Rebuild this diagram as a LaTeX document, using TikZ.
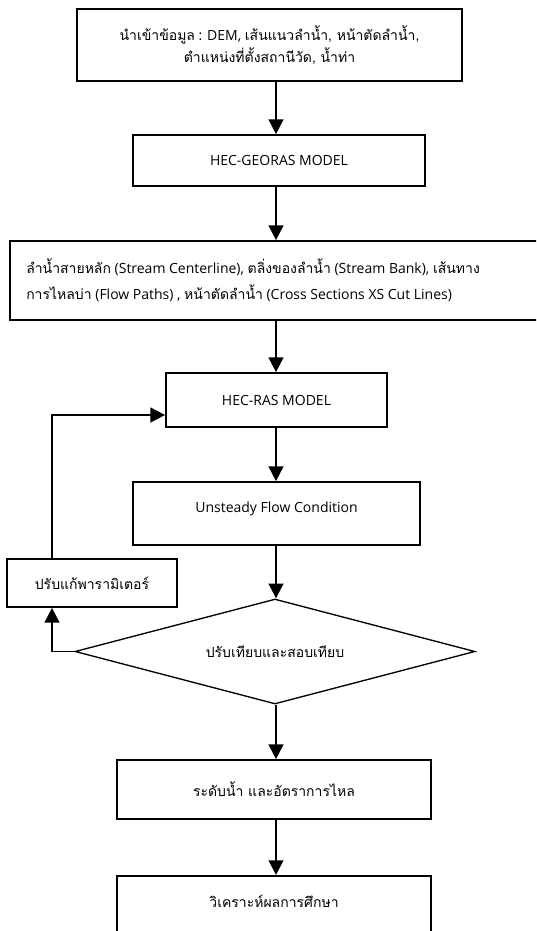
\documentclass[tikz,border=0pt]{standalone}
\usepackage{fontspec}
\setmainfont{Open Sans}
\newfontfamily\thai[Script=Thai]{Loma}
\usetikzlibrary{arrows.meta,shapes.geometric}
\begin{document}
\begin{tikzpicture}[x=0.75pt,y=-0.75pt,
  box/.style={draw, line width=1.3pt, rectangle, inner sep=0pt, align=center,
    font=\fontsize{10.5}{16}\selectfont},
  txt/.style={inner sep=0pt, font=\fontsize{10.5}{16}\selectfont},
  arr/.style={line width=1.4pt, -{Triangle[width=11pt,length=11pt]}}]
\clip (0,0) rectangle (536,931);
\fill[white] (0,0) rectangle (536,931);
\coordinate (ax) at (276,0);
% boxes
\node[box, minimum width=385*0.75pt, minimum height=72*0.75pt] (b1) at (269.5,45)
  {{\thai นำเข้าข้อมูล} : DEM, {\thai เส้นแนวลำน้ำ, หน้าตัดลำน้ำ,}\\{\thai ตำแหน่งที่ตั้งสถานีวัด, น้ำท่า}};
\node[box, minimum width=292*0.75pt, minimum height=51*0.75pt] (b2) at (279,160.5) {HEC-GEORAS MODEL};
\node[box, minimum width=560*0.75pt, minimum height=79*0.75pt, anchor=west] (b3) at (9,280.5) {};
\node[txt, anchor=west, align=left, font=\fontsize{10.5}{19.5}\selectfont] (b3t) at (26,280)
  {{\thai ลำน้ำสายหลัก} (Stream Centerline), {\thai ตลิ่งของลำน้ำ} (Stream Bank), {\thai เส้นทาง}\\
   {\thai การไหลบ่า} (Flow Paths) , {\thai หน้าตัดลำน้ำ} (Cross Sections XS Cut Lines)};
\node[box, minimum width=221*0.75pt, minimum height=54*0.75pt] (b4) at (276.5,400) {HEC-RAS MODEL};
\node[box, minimum width=287*0.75pt, minimum height=63*0.75pt] (b5) at (276.5,513.5) {};
\node[txt] (b5t) at (276.5,509) {Unsteady Flow Condition};
\node[box, minimum width=170*0.75pt, minimum height=48*0.75pt] (b6) at (92,583) {\thai ปรับแก้พารามิเตอร์};
\node[draw, diamond, aspect=3.8, line width=1pt, inner sep=0pt, minimum width=400*0.75pt,
  minimum height=105*0.75pt, font=\fontsize{10.5}{16}\selectfont] (d) at (275,651.5) {\thai ปรับเทียบและสอบเทียบ};
\node[box, minimum width=314*0.75pt, minimum height=59*0.75pt] (b7) at (274,789.5) {\thai ระดับน้ำ และอัตราการไหล};
\node[box, minimum width=314*0.75pt, minimum height=90*0.75pt, anchor=north] (b8) at (274,875) {};
\node[txt] (b8t) at (274,901) {\thai วิเคราะห์ผลการศึกษา};
% connectors
\draw[arr] (b1.south -| ax) -- (b2.north -| ax);
\draw[arr] (b2.south -| ax) -- (b3.north -| ax);
\draw[arr] (b3.south -| ax) -- (b4.north -| ax);
\draw[arr] (b4.south -| ax) -- (b5.north -| ax);
\draw[arr] (b5.south -| ax) -- (d.north -| ax);
\draw[arr] (d.south -| ax) -- (b7.north -| ax);
\draw[arr] (b7.south -| ax) -- (b8.north -| ax);
\coordinate (fx) at (52,0);
\coordinate (fy) at (0,415);
\draw[arr] (d.west) -- (d.west -| fx) -- (b6.south -| fx);
\draw[arr] (b6.north -| fx) -- (fx |- fy) -- (b4.west |- fy);
\end{tikzpicture}
\end{document}
